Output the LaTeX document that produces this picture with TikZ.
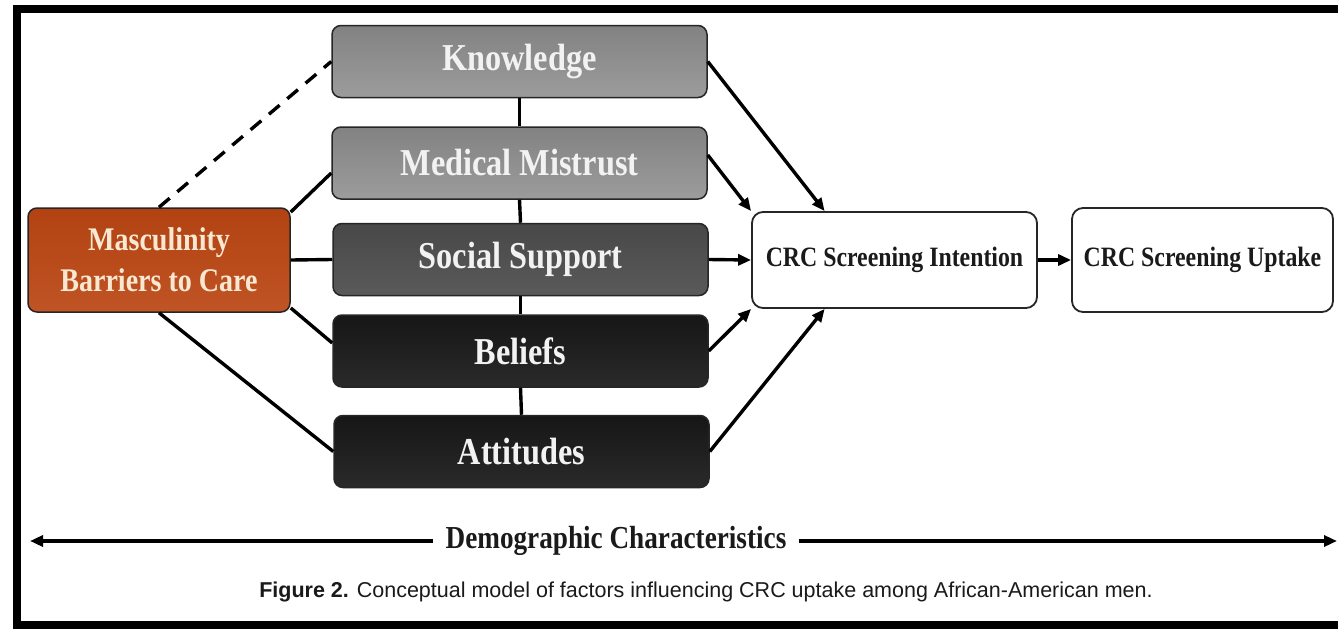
\documentclass[tikz,border=0pt]{standalone}
\usepackage{fontspec}
\setmainfont{Liberation Serif}
\newfontfamily\boxfont{Liberation Serif}[FakeStretch=0.85]
\newfontfamily\capfont{Liberation Sans}
\usetikzlibrary{arrows.meta,calc}

\definecolor{lighttop}{RGB}{130,130,130}
\definecolor{lightmid}{RGB}{116,116,116}
\definecolor{lightbot}{RGB}{156,156,156}
\definecolor{darktop}{RGB}{72,72,72}
\definecolor{darkmid}{RGB}{56,56,56}
\definecolor{darkbot}{RGB}{90,90,90}
\definecolor{blacktop}{RGB}{22,22,22}
\definecolor{blackmid}{RGB}{8,8,8}
\definecolor{blackbot}{RGB}{42,42,42}
\definecolor{rusttop}{RGB}{178,66,18}
\definecolor{rustmid}{RGB}{166,58,14}
\definecolor{rustbot}{RGB}{192,84,36}
\definecolor{cream}{RGB}{248,232,210}
\definecolor{inkgray}{RGB}{26,26,26}

\tikzset{
  factor/.style={draw=black!85, line width=1.5pt, rounded corners=9pt,
    minimum width=375pt, minimum height=72pt, inner sep=0pt, text=white!95!black,
    font=\boxfont\bfseries\fontsize{38}{40}\selectfont},
  lightbox/.style={factor, top color=lighttop, middle color=lightmid, bottom color=lightbot},
  darkbox/.style={factor, top color=darktop, middle color=darkmid, bottom color=darkbot},
  blackbox/.style={factor, top color=blacktop, middle color=blackmid, bottom color=blackbot},
  outcome/.style={draw=black!85, line width=1.8pt, rounded corners=11pt, fill=white,
    inner sep=0pt, text=inkgray, font=\boxfont\bfseries\fontsize{28}{30}\selectfont},
  link/.style={line width=3.4pt},
  arr/.style={link, -{Triangle[length=13pt,width=11pt]}},
}

\begin{document}
\begin{tikzpicture}[x=1pt, y=-1pt]
    \useasboundingbox (0,0) rectangle (1338,632);
    \fill[white] (0,0) rectangle (1338,632);

    % frame
    \fill[black] (13,5) rectangle (1338,13);
    \fill[black] (13,5) rectangle (21,629);
    \fill[black] (13,621) rectangle (1338,629);

    % mediating factors
    \node[lightbox] (know)   at (519.5,61.5) {Knowledge};
    \node[lightbox] (mist)   at (519.5,163)  {Medical Mistrust};
    \node[darkbox]  (social) at (520.5,259.5) {Social Support};
    \node[blackbox] (belief) at (520.5,351)  {Beliefs};
    \node[blackbox] (attit)  at (521.5,451.5) {Attitudes};

    % masculinity
    \node[factor, minimum width=262pt, minimum height=104pt, align=center,
          top color=rusttop, middle color=rustmid, bottom color=rustbot, text=cream,
          font=\boxfont\bfseries\fontsize{33}{41}\selectfont]
          (masc) at (159,260) {Masculinity\\Barriers to Care};

    % outcomes
    \node[outcome, minimum width=285pt, minimum height=96pt]  (intent) at (894.5,260) {CRC Screening Intention};
    \node[outcome, minimum width=261pt, minimum height=104pt] (uptake) at (1202.5,260) {CRC Screening Uptake};

    % links from masculinity
    \draw[link, dashed, dash pattern=on 14pt off 10pt] (masc.north) -- (know.west);
    \draw[link] (masc.20) -- ([yshift=-10pt]mist.west);
    \draw[link] (masc.east) -- (social.west);
    \draw[link] (masc.-20) -- ([yshift=8pt]belief.west);
    \draw[link] (masc.south) -- (attit.west);

    % vertical chain
    \draw[link] (know.south) -- (mist.north);
    \draw[link] (mist.south) -- (social.north);
    \draw[link] (social.south) -- (belief.north);
    \draw[link] (belief.south) -- (attit.north);

    % arrows to intention
    \draw[arr] (know.east) -- (intent.145);
    \draw[arr] ([yshift=8pt]mist.east) -- (intent.north west);
    \draw[arr] (social.east) -- (intent.west);
    \draw[arr] (belief.east) -- (intent.south west);
    \draw[arr] (attit.east) -- (intent.-145);
    \draw[arr] (intent.east) -- (uptake.west);

    % demographics
    \node[text=inkgray, inner xsep=12pt, font=\boxfont\bfseries\fontsize{32}{34}\selectfont]
          (demo) at (616,541) {Demographic Characteristics};
    \coordinate (lefttip)  at (30,541);
    \coordinate (righttip) at (1337,541);
    \draw[arr] (demo.west) -- (lefttip);
    \draw[arr] (demo.east) -- (righttip);

    % caption
    \node[text=inkgray, font=\capfont\fontsize{21.5}{24}\selectfont] (caption) at (706,592)
          {\textbf{Figure 2.} Conceptual model of factors influencing CRC uptake among African-American men.};
\end{tikzpicture}
\end{document}
